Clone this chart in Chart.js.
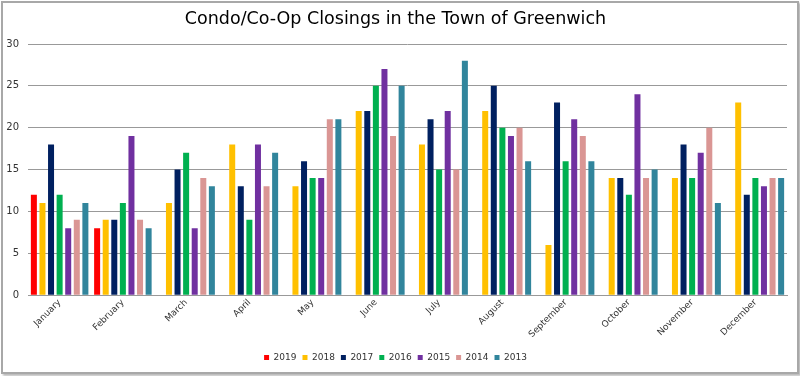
<!DOCTYPE html>
<html>
<head>
<meta charset="utf-8">
<script src="https://cdn.jsdelivr.net/npm/chart.js@4/dist/chart.umd.min.js"></script>
<style>
  html, body { margin: 0; padding: 0; background: #fff; }
  #wrap { position: relative; width: 800px; height: 376px; }
  #frame { position: absolute; left: 1px; top: 1px; width: 794px; height: 369px;
           border: 2px solid #a8a8a8; box-shadow: 2px 2px 2px #bbb; }
  canvas { position: absolute; left: 0; top: 0; }
</style>
</head>
<body>
<div id="wrap">
  <div id="frame"></div>
  <canvas id="c" width="800" height="376"></canvas>
</div>
<script>
const months = ["January","February","March","April","May","June","July","August","September","October","November","December"];
const y2019 = [12, 8, null, null, null, null, null, null, null, null, null, null];
const y2018 = [11, 9, 11, 18, 13, 22, 18, 22, 6, 14, 14, 23];
const y2017 = [18, 9, 15, 13, 16, 22, 21, 25, 23, 14, 18, 12];
const y2016 = [12, 11, 17, 9, 14, 25, 15, 20, 16, 12, 14, 14];
const y2015 = [8, 19, 8, 18, 14, 27, 22, 19, 21, 24, 17, 13];
const y2014 = [9, 9, 14, 13, 21, 19, 15, 20, 19, 14, 20, 14];
const y2013 = [11, 8, 13, 17, 21, 25, 28, 16, 16, 15, 11, 14];
const yTicks = [0, 5, 10, 15, 20, 25, 30];

const series = [
  ["2019", y2019, "#FF0000"],
  ["2018", y2018, "#FFC000"],
  ["2017", y2017, "#002060"],
  ["2016", y2016, "#00B050"],
  ["2015", y2015, "#7030A0"],
  ["2014", y2014, "#DA9694"],
  ["2013", y2013, "#31859C"]
];

new Chart(document.getElementById("c"), {
  type: "bar",
  data: {
    labels: months,
    datasets: series.map(([label, data, color]) => ({
      label, data, backgroundColor: color,
      categoryPercentage: 0.95, barPercentage: 0.7
    }))
  },
  options: {
    responsive: false,
    animation: false,
    devicePixelRatio: 1,
    layout: { padding: { left: 4, right: 13, top: 6, bottom: 4 } },
    plugins: {
      title: {
        display: true,
        text: "Condo/Co-Op Closings in the Town of Greenwich",
        color: "#000",
        font: { family: "DejaVu Sans", size: 17.5, weight: "normal" },
        padding: { top: 3, bottom: 14 }
      },
      legend: {
        position: "bottom",
        labels: {
          boxWidth: 5, boxHeight: 5, padding: 6,
          color: "#333",
          font: { family: "DejaVu Sans", size: 9 }
        }
      },
      tooltip: { enabled: false }
    },
    scales: {
      x: {
        grid: { display: false, drawTicks: false },
        border: { display: true, color: "#999", width: 1 },
        afterFit: (s) => { s.height = s.height + 5; },
        ticks: {
          minRotation: 45, maxRotation: 45,
          padding: 2,
          color: "#333",
          font: { family: "DejaVu Sans", size: 9 }
        }
      },
      y: {
        min: 0, max: 30,
        afterBuildTicks: (s) => { s.ticks = yTicks.map(v => ({ value: v })); },
        afterFit: (s) => { s.width = 24; },
        grid: { color: "#999", lineWidth: 1, drawTicks: false },
        border: { display: false },
        ticks: {
          padding: 9,
          color: "#333",
          font: { family: "DejaVu Sans", size: 10 }
        }
      }
    }
  }
});
</script>
</body>
</html>
